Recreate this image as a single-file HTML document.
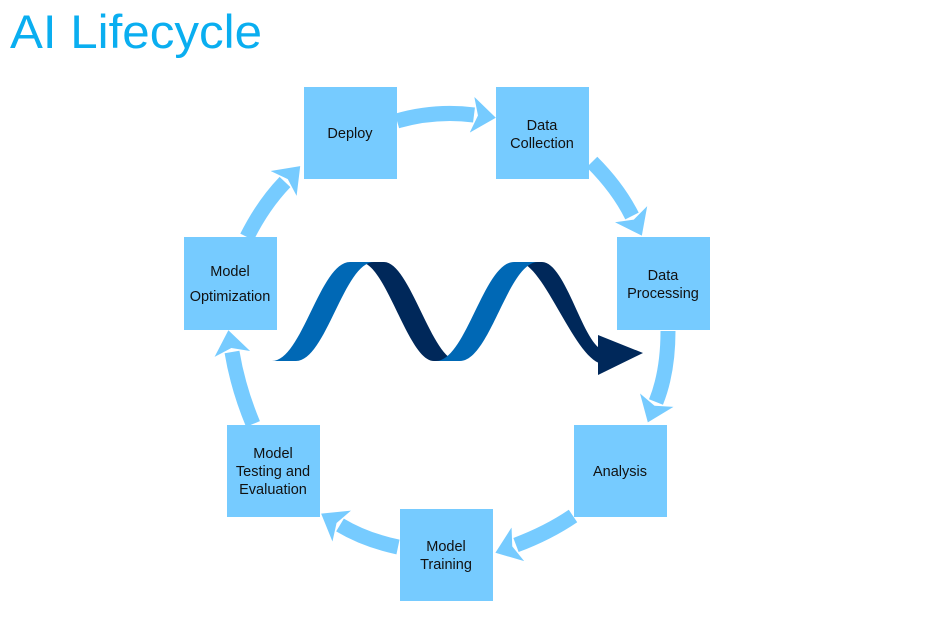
<!DOCTYPE html>
<html><head><meta charset="utf-8"><style>
html,body{margin:0;padding:0;background:#fff;}
svg{display:block}
.b{fill:#76CBFF}
.t{font-family:"Liberation Sans",sans-serif;font-size:14.5px;fill:#111;text-anchor:middle}
</style></head><body>
<svg width="929" height="625" viewBox="0 0 929 625" xmlns="http://www.w3.org/2000/svg">
<defs>
<marker id="h" markerUnits="userSpaceOnUse" markerWidth="26" markerHeight="40" refX="2" refY="20" orient="auto">
<path d="M0,2 L24,20 L0,38 L6,20 Z" fill="#76CBFF"/>
</marker>
</defs>
<text x="10" y="48" font-family="Liberation Sans, sans-serif" font-size="47" fill="#0AAEF0" textLength="252" lengthAdjust="spacingAndGlyphs">AI Lifecycle</text>

<g fill="none" stroke="#76CBFF" stroke-width="15" marker-end="url(#h)">
<path d="M397,121 Q435,110 474,115"/>
<path d="M592,162 Q618,188 632,216"/>
<path d="M668,331 Q668,372 656,402"/>
<path d="M573,516 Q548,533 516,545"/>
<path d="M398,547 Q365,540 340,525"/>
<path d="M253,424 Q238,388 232,352"/>
<path d="M247,237 Q263,205 285,182"/>
</g>

<rect class="b" x="304" y="87" width="93" height="92"/>
<rect class="b" x="496" y="87" width="93" height="92"/>
<rect class="b" x="617" y="237" width="93" height="93"/>
<rect class="b" x="574" y="425" width="93" height="92"/>
<rect class="b" x="400" y="509" width="93" height="92"/>
<rect class="b" x="227" y="425" width="93" height="92"/>
<rect class="b" x="184" y="237" width="93" height="93"/>

<text class="t" x="350" y="138">Deploy</text>
<text class="t" x="542" y="130">Data</text>
<text class="t" x="542" y="148">Collection</text>
<text class="t" x="663" y="280">Data</text>
<text class="t" x="663" y="298">Processing</text>
<text class="t" x="620" y="476">Analysis</text>
<text class="t" x="446" y="551">Model</text>
<text class="t" x="446" y="569">Training</text>
<text class="t" x="273" y="458">Model</text>
<text class="t" x="273" y="476">Testing and</text>
<text class="t" x="273" y="494">Evaluation</text>
<text class="t" x="230" y="276">Model</text>
<text class="t" x="230" y="301">Optimization</text>

<path d="M360,262 L384,262 C410,262 432,361 458,361 L434,361 C408,361 386,262 360,262 Z" fill="#00285A"/>
<path d="M272,361 C302,361 320,262 350,262 L374,262 C344,262 326,361 296,361 Z" fill="#0068B5"/>
<path d="M518,262 L542,262 C566,262 584,348 604,350 L604,364 C576,364 544,262 518,262 Z" fill="#00285A"/>
<path d="M436,361 C466,361 484,262 514,262 L538,262 C508,262 490,361 460,361 Z" fill="#0068B5"/>
<path d="M598,335 L643,353 L598,375 Z" fill="#00285A"/>
</svg>
</body></html>
